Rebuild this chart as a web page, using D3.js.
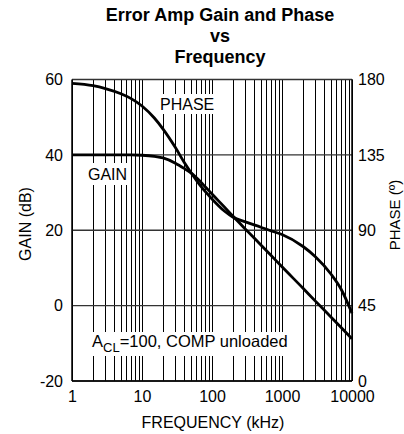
<!DOCTYPE html>
<html>
<head>
<meta charset="utf-8">
<script src="https://cdn.jsdelivr.net/npm/d3@7"></script>
<style>
html,body{margin:0;padding:0;background:#fff;}
svg{display:block;font-family:"Liberation Sans",Arial,sans-serif;}
</style>
</head>
<body>
<svg id="chart" width="404" height="434"></svg>
<script>
// ---- data ----
const titleLines = ["Error Amp Gain and Phase", "vs", "Frequency"];
const frequencies = [1, 2, 3, 5, 7, 10, 15, 20, 30, 40, 50, 70, 100, 150, 200, 300, 500, 700, 1000, 2000, 3000, 5000, 7000, 10000];
const gainDb =      [40, 40, 40, 40, 40, 39.9, 39.6, 39.2, 37.8, 36.4, 35.2, 32.7, 29.6, 26.2, 23.7, 20.3, 16.1, 13.3, 10.3, 4.6, 1.2, -3.0, -5.8, -8.8];
const phaseDeg =    [177.7, 176.3, 174.6, 171.5, 168.6, 164.2, 157, 150.4, 139.4, 130.6, 124.5, 116.0, 108.7, 101.5, 97.8, 95.0, 91.8, 89.6, 87.5, 80.3, 74.2, 63.9, 54.8, 40.5];
const xTicks = [1, 10, 100, 1000, 10000];
const xTickLabels = ["1", "10", "100", "1000", "10000"];
const gainTicks = [-20, 0, 20, 40, 60];
const phaseTicks = [0, 45, 90, 135, 180];

// ---- layout ----
const svg = d3.select("#chart");
const L = 72, R = 352, T = 79.5, B = 381;
const x = d3.scaleLog().domain([1, 10000]).range([L, R]);
const yG = d3.scaleLinear().domain([-20, 60]).range([B, T]);
const yP = d3.scaleLinear().domain([0, 180]).range([B, T]);

// minor vertical grid
const minor = [];
for (let d = 1; d < 10000; d *= 10) for (let k = 1; k <= 9; k++) minor.push(d * k);
minor.push(10000);
svg.append("g").selectAll("line").data(minor).join("line")
  .attr("x1", d => Math.round(x(d)) + 0.5).attr("x2", d => Math.round(x(d)) + 0.5)
  .attr("y1", T).attr("y2", B)
  .attr("stroke", "#000").attr("stroke-width", 1);

// horizontal grid
svg.append("g").selectAll("line").data(gainTicks).join("line")
  .attr("x1", L).attr("x2", R)
  .attr("y1", d => yG(d)).attr("y2", d => yG(d))
  .attr("stroke", "#333").attr("stroke-width", 1.3);

// axes frame lines
svg.append("line").attr("x1", L).attr("x2", L).attr("y1", T).attr("y2", B).attr("stroke", "#000").attr("stroke-width", 1.5);
svg.append("line").attr("x1", R).attr("x2", R).attr("y1", T).attr("y2", B).attr("stroke", "#000").attr("stroke-width", 1.5);
svg.append("line").attr("x1", L).attr("x2", R).attr("y1", B).attr("y2", B).attr("stroke", "#000").attr("stroke-width", 1.5);

// axes (labels only)
const plain = d => String(d);
const axL = d3.axisLeft(yG).tickValues(gainTicks).tickFormat(plain).tickSize(0).tickPadding(9);
const axR = d3.axisRight(yP).tickValues(phaseTicks).tickFormat(plain).tickSize(0).tickPadding(6);
const axB = d3.axisBottom(x).tickValues(xTicks).tickFormat((d, i) => xTickLabels[i]).tickSize(0).tickPadding(10);
function styleAxis(g) {
  g.select(".domain").remove();
  g.selectAll("text").attr("font-size", 16).attr("fill", "#000").attr("font-family", "Liberation Sans, Arial, sans-serif");
}
svg.append("g").attr("transform", `translate(${L},0)`).call(axL).call(styleAxis);
svg.append("g").attr("transform", `translate(${R},0)`).call(axR).call(styleAxis);
svg.append("g").attr("transform", `translate(0,${B})`).call(axB).call(styleAxis);

// label boxes
function boxLabel(xp, yp, w, h) {
  svg.append("rect").attr("x", xp).attr("y", yp).attr("width", w).attr("height", h).attr("fill", "#fff");
}
boxLabel(157, 94, 61, 20);
boxLabel(85, 163, 45, 22);
boxLabel(90, 332, 201, 24);

// curves
const line = d3.line().curve(d3.curveMonotoneX);
const gainPts = frequencies.map((f, i) => [x(f), yG(gainDb[i])]);
const phasePts = frequencies.map((f, i) => [x(f), yP(phaseDeg[i])]);
svg.append("path").attr("d", line(gainPts)).attr("fill", "none").attr("stroke", "#000").attr("stroke-width", 2.8);
svg.append("path").attr("d", line(phasePts)).attr("fill", "none").attr("stroke", "#000").attr("stroke-width", 2.8);

// in-plot labels
svg.append("text").attr("x", 160).attr("y", 110).attr("font-size", 16).text("PHASE");
svg.append("text").attr("x", 88).attr("y", 180).attr("font-size", 16).text("GAIN");
const acl = svg.append("text").attr("x", 92).attr("y", 347).attr("font-size", 16.5);
acl.append("tspan").text("A");
acl.append("tspan").attr("font-size", 13).attr("dy", 5).text("CL");
acl.append("tspan").attr("dy", -5).text("=100, COMP unloaded");

// title
const tt = svg.append("text").attr("text-anchor", "middle").attr("font-weight", "bold").attr("font-size", 18);
titleLines.forEach((t, i) => tt.append("tspan").attr("x", 220).attr("y", 21 + i * 21).text(t));

// axis titles
svg.append("text").attr("x", 213).attr("y", 428).attr("text-anchor", "middle").attr("font-size", 16).text("FREQUENCY (kHz)");
svg.append("text").attr("transform", "translate(31,224) rotate(-90)").attr("text-anchor", "middle").attr("font-size", 16).text("GAIN (dB)");
svg.append("text").attr("transform", "translate(400,215) rotate(-90)").attr("text-anchor", "middle").attr("font-size", 15).text("PHASE (º)");
</script>
</body>
</html>
